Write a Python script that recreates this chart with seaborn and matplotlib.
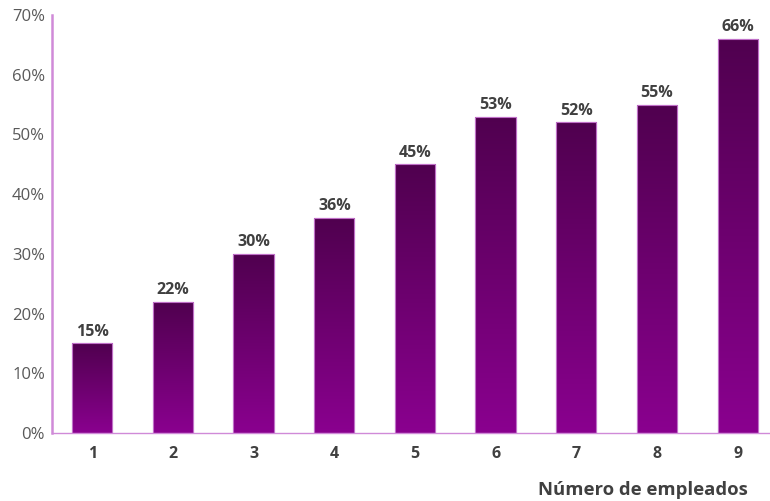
import numpy as np
import pandas as pd
import matplotlib
matplotlib.use("Agg")
import matplotlib.pyplot as plt
from matplotlib.colors import LinearSegmentedColormap
import seaborn as sns

# Share of companies by number of employees
empleados = ["1", "2", "3", "4", "5", "6", "7", "8", "9"]
porcentaje = [15, 22, 30, 36, 45, 53, 52, 55, 66]
y_ticks = [0, 10, 20, 30, 40, 50, 60, 70]

df = pd.DataFrame({"empleados": empleados, "porcentaje": porcentaje})

sns.set_theme(style="white")
plt.rcParams["font.family"] = ["Open Sans", "DejaVu Sans"]

fig = plt.figure(figsize=(7.70, 5.01), dpi=100)
ax = fig.add_axes([52 / 770, (501 - 433) / 501, (778 - 52) / 770, (433 - 15) / 501])

sns.barplot(data=df, x="empleados", y="porcentaje", ax=ax, width=0.5,
            color="#6a006a", edgecolor="#c070c8", linewidth=0.8, zorder=2)

# Vertical gradient inside each bar: dark at the top, brighter at the base
grad = LinearSegmentedColormap.from_list("morado", ["#8a008f", "#50004f"])
g = np.linspace(0, 1, 256).reshape(-1, 1)
for patch in ax.patches:
    x0, y0 = patch.get_x(), patch.get_y()
    w, h = patch.get_width(), patch.get_height()
    im = ax.imshow(g, cmap=grad, aspect="auto", origin="lower",
                   extent=[x0, x0 + w, y0, y0 + h], zorder=2.5,
                   interpolation="bicubic")
    im.set_clip_path(patch)
    edge = plt.Rectangle((x0, y0), w, h, fill=False, edgecolor="#c070c8",
                         linewidth=0.8, zorder=3)
    ax.add_patch(edge)
    ax.text(x0 + w / 2, y0 + h + 0.6, f"{int(round(h))}%", ha="center",
            va="bottom", fontsize=11.5, fontweight="bold", color="#404040",
            zorder=4)

ax.set_xlim(-0.5, 8.5)
ax.set_ylim(0, 70)
ax.set_yticks(y_ticks)
ax.set_yticklabels([f"{v}%" for v in y_ticks], fontsize=12, color="#595959")
ax.tick_params(axis="x", labelsize=11.5, labelcolor="#404040", length=0, pad=9)
ax.tick_params(axis="y", length=0, pad=5)
for lab in ax.get_xticklabels():
    lab.set_fontweight("bold")

ax.set_xlabel("")
ax.set_ylabel("")
for side in ["top", "right"]:
    ax.spines[side].set_visible(False)
ax.spines["left"].set_color("#d08ad8")
ax.spines["bottom"].set_color("#d08ad8")
ax.spines["left"].set_linewidth(1.8)
ax.spines["bottom"].set_linewidth(1.0)

fig.text(748 / 770, 1 - 490 / 501, "Número de empleados", ha="right",
         va="center", fontsize=13.3, fontweight="bold", color="#404040")

fig.savefig("out.png", dpi=100)
